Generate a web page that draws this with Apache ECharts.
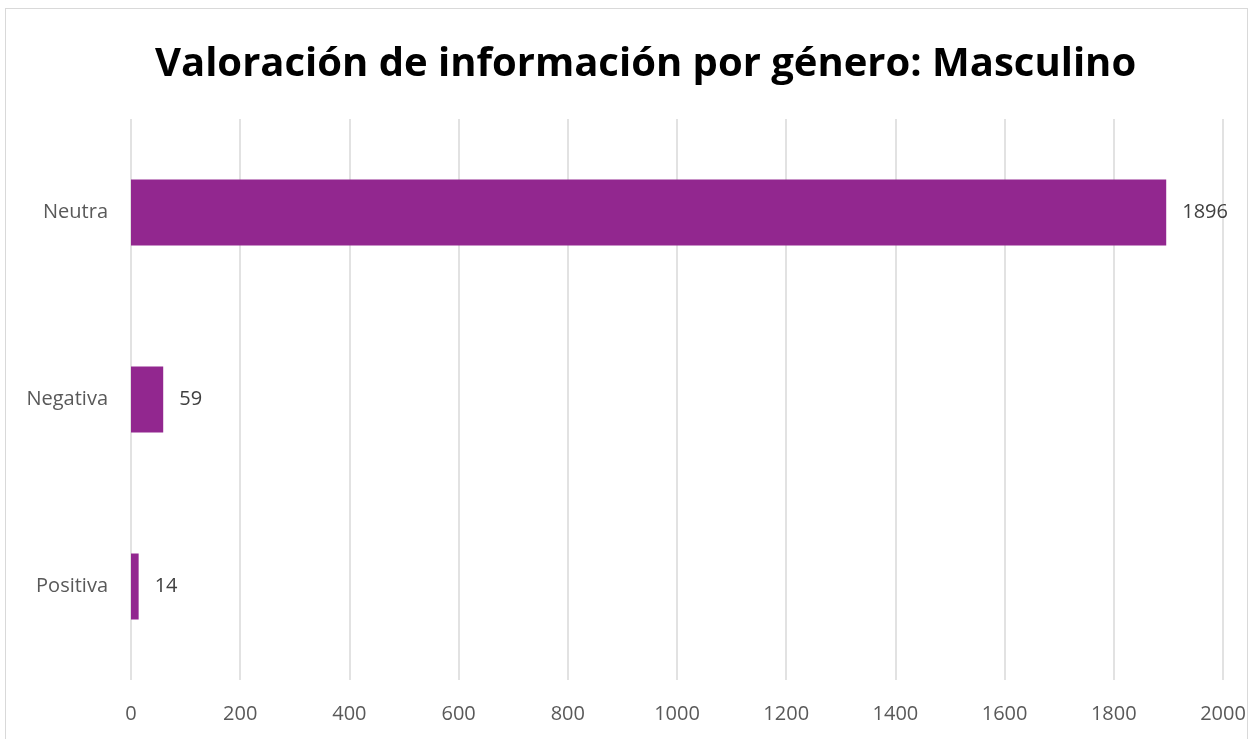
<!DOCTYPE html>
<html>
<head>
<meta charset="utf-8">
<script src="https://cdn.jsdelivr.net/npm/echarts@6/dist/echarts.min.js"></script>
<style>
  html, body { margin: 0; padding: 0; background: #fff; }
  #frame { position: absolute; left: 5px; top: 8px; width: 1243px; height: 740px; border: 1px solid #d9d9d9; box-sizing: border-box; }
  #chart { width: 1256px; height: 739px; }
</style>
</head>
<body>
<div id="frame"></div>
<div id="chart"></div>
<script>
// categorias de abajo hacia arriba (eje Y invertido en Excel)
var categorias = ['Positiva', 'Negativa', 'Neutra']
var valores = [14, 59, 1896]
var ticksX = [0, 200, 400, 600, 800, 1000, 1200, 1400, 1600, 1800, 2000]

var chart = echarts.init(document.getElementById('chart'))
chart.setOption({
    title: {
        text: 'Valoración de información por género: Masculino',
        left: 150,
        top: 40,
        textStyle: {
            fontFamily: 'Open Sans',
            fontWeight: 'bold',
            fontSize: 40,
            color: '#000'
        }
    },
    grid: {
        left: 131,
        right: 33,
        top: 119,
        bottom: 59
    },
    xAxis: {
        type: 'value',
        min: ticksX[0],
        max: ticksX[ticksX.length - 1],
        interval: 200,
        axisLine: { show: false },
        axisTick: { show: false },
        splitLine: { lineStyle: { color: '#d9d9d9', width: 1.5 } },
        axisLabel: {
            margin: 24,
            fontFamily: 'Open Sans',
            fontSize: 20,
            color: '#595959',
            formatter: function (v) { return String(v) }
        }
    },
    yAxis: {
        type: 'category',
        data: categorias,
        axisLine: { show: false },
        axisTick: { show: false },
        axisLabel: {
            margin: 23,
            fontFamily: 'Open Sans',
            fontSize: 20,
            color: '#595959'
        }
    },
    series: [{
        type: 'bar',
        data: valores,
        barWidth: 66,
        itemStyle: { color: '#92278f' },
        label: {
            show: true,
            position: 'right',
            distance: 16,
            fontFamily: 'Open Sans',
            fontSize: 20,
            color: '#404040'
        },
        animation: false
    }]
})
</script>
</body>
</html>
